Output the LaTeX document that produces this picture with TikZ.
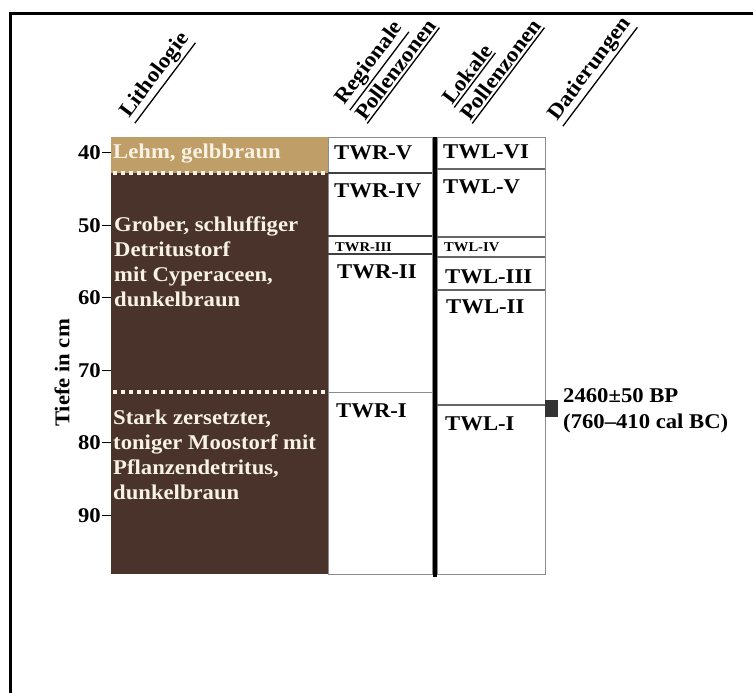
\documentclass[tikz,border=0pt]{standalone}
\usepackage{fontspec}
\setmainfont{Liberation Serif}[FakeStretch=1.08]
\usetikzlibrary{calc}
\definecolor{lehm}{RGB}{192,158,104}
\definecolor{torf}{RGB}{74,51,42}
\definecolor{hell}{RGB}{248,242,228}
\definecolor{rahmen}{RGB}{140,140,140}
\newcommand{\strich}[1]{\leavevmode\vtop{\hbox{#1}\kern1.8pt\hrule height 1.3pt}}

\begin{document}
\begin{tikzpicture}[x=1pt, y=-1pt, font=\bfseries\fontsize{21}{25}\selectfont,
  zone/.style={anchor=base west, inner sep=0pt},
  kleinzone/.style={anchor=base west, inner sep=0pt, font=\bfseries\fontsize{13.5}{15}\selectfont},
  kopf/.style={anchor=base west, inner sep=0pt, rotate=53, font=\bfseries\fontsize{21.5}{26}\selectfont},
  punkte/.style={color=hell, line width=4pt, dash pattern=on 4pt off 4pt}]
\useasboundingbox (0,0) rectangle (753,693);
  % frame
  \draw[line width=3pt] (10,693) -- (10,14) -- (753,14);

  % column heads
  \node[kopf] (kLitho) at (129,119) {\strich{Lithologie}};
  \node[kopf] (kRegA) at (344,106) {\strich{Regionale}};
  \node[kopf] (kRegB) at (365,122) {\strich{Pollenzonen}};
  \node[kopf] (kLokA) at (452,106) {\strich{Lokale}};
  \node[kopf] (kLokB) at (470,122) {\strich{Pollenzonen}};
  \node[kopf] (kDat) at (557,122) {\strich{Datierungen}};

  % lithology
  \fill[color=lehm] (111,137) rectangle (328,173);
  \fill[color=torf] (111,173) rectangle (328,574);
  \draw[punkte] (113,173) -- (328,173);
  \draw[punkte] (113,392) -- (328,392);
  \node[zone, color=hell] (lehm) at (113,158) {Lehm, gelbbraun};
  \node[anchor=north west, inner sep=0pt, align=left, color=hell] (grob) at (114,217) {Grober, schluffiger\\Detritustorf\\mit Cyperaceen,\\dunkelbraun};
  \node[anchor=north west, inner sep=0pt, align=left, color=hell] (moos) at (113,410) {Stark zersetzter,\\toniger Moostorf mit\\Pflanzendetritus,\\dunkelbraun};

  % depth axis
  \foreach \d in {40,50,...,90}
  {
  \draw[thick] (102,{152.7+(\d-40)*7.25}) -- (111,{152.7+(\d-40)*7.25});
  \node[anchor=east, inner sep=1pt] (t\d) at (102,{152.7+(\d-40)*7.25}) {\d};
  }
  \node[rotate=90] (tiefe) at (62,373) {Tiefe in cm};

  % regional zones
  \draw[color=rahmen, thick] (328,137) rectangle (432,574);
  \draw[color=black!75, line width=1.5pt] (328,173) -- (432,173);
  \draw[color=black!75, line width=1.5pt] (328,236) -- (432,236);
  \draw[color=black!75, line width=1.5pt] (328,254) -- (432,254);
  \draw[color=rahmen, thick] (328,392) -- (432,392);
  \node[zone] (r5) at (334,159) {TWR-V};
  \node[zone] (r4) at (334,197) {TWR-IV};
  \node[kleinzone] (r3) at (335,251) {TWR-III};
  \node[zone] (r2) at (337,278) {TWR-II};
  \node[zone] (r1) at (336,417) {TWR-I};

  % separator
  \draw[line width=4pt] (435,137) -- (435,577);

  % local zones
  \draw[color=rahmen, thick] (437,137) rectangle (545,574);
  \foreach \y in {169,237,257,290,405}
  {
  \draw[color=black!60, line width=1.2pt] (437,\y) -- (545,\y);
  }
  \node[zone] (l6) at (443,158) {TWL-VI};
  \node[zone] (l5) at (443,193) {TWL-V};
  \node[kleinzone] (l4) at (444,251) {TWL-IV};
  \node[zone] (l3) at (445,283) {TWL-III};
  \node[zone] (l2) at (446,313) {TWL-II};
  \node[zone] (l1) at (445,430) {TWL-I};

  % dating
  \node[fill=black!80, inner sep=0pt, minimum width=13pt, minimum height=17pt, anchor=west] (probe) at (545,408) {};
  \node[zone] (datA) at (563,402) {2460±50 BP};
  \node[zone] (datB) at (563,428) {(760–410 cal BC)};

\end{tikzpicture}
\end{document}
